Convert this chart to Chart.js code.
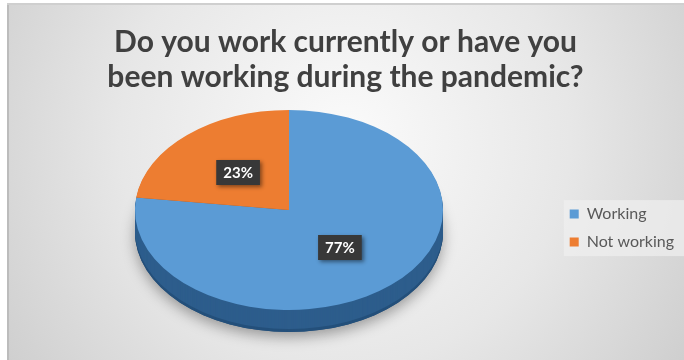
<!DOCTYPE html>
<html>
<head>
<meta charset="utf-8">
<script src="https://cdn.jsdelivr.net/npm/chart.js@4.4.1/dist/chart.umd.min.js"></script>
<style>
    html, body { margin: 0; padding: 0; background: #ffffff; }
    #wrap { position: relative; width: 684px; height: 360px; }
</style>
</head>
<body>
<div id="wrap"><canvas id="workChart"></canvas></div>
<script>
const categories = ['Working', 'Not working'];
const shares = [77, 23];
const sliceColors = ['#5b9bd5', '#ed7d31'];
const sideColors = ['#2d5d8c', '#a5521c'];
const titleLines = ['Do you work currently or have you', 'been working during the pandemic?'];

// where the tilted pie sits on the page
const PIE = { x: 289, y: 210, rx: 154, ry: 100, depth: 22 };
let squash = null;

const tiltPlugin = {
    id: 'tilt',
    beforeDraw(chart) {
        let ctx = chart.ctx;
        let w = chart.width, h = chart.height;
        ctx.save();
        ctx.fillStyle = '#ffffff';
        ctx.fillRect(0, 0, w, h);
        let grad = ctx.createRadialGradient(345, 140, 10, 345, 140, 440);
        grad.addColorStop(0, '#fafafa');
        grad.addColorStop(0.5, '#e7e7e7');
        grad.addColorStop(1, '#cacaca');
        ctx.fillStyle = grad;
        ctx.fillRect(7, 4, w - 7, h - 4);
        ctx.fillStyle = '#bcbcbc';
        ctx.fillRect(7, 4, 2, h - 4);
        ctx.fillStyle = '#cfcfcf';
        ctx.fillRect(7, 3, w - 7, 2);

        // pale panel behind the legend
        let boxes = chart.legend.legendHitBoxes;
        if (boxes && boxes.length) {
            let left = Math.min(...boxes.map(b => b.left)) - 6;
            let top = Math.min(...boxes.map(b => b.top)) - 6;
            let bottom = Math.max(...boxes.map(b => b.top + b.height)) + 6;
            ctx.fillStyle = 'rgba(240,240,240,0.7)';
            ctx.fillRect(left, top, w - left, bottom - top);
        }
        ctx.restore();
    },
    beforeDatasetsDraw(chart) {
        let ctx = chart.ctx;
        let arcs = chart.getDatasetMeta(0).data;
        let cx = arcs[0].x, cy = arcs[0].y, r = arcs[0].outerRadius;
        let sx = PIE.rx / r, sy = PIE.ry / r;
        squash = { cx: cx, cy: cy, sx: sx, sy: sy };

        ctx.save();
        // soft shadow under the disc
        ctx.save();
        ctx.translate(PIE.x, PIE.y + PIE.depth);
        ctx.scale(sx, sy);
        ctx.shadowColor = 'rgba(0,0,0,0.35)';
        ctx.shadowBlur = 14;
        ctx.shadowOffsetY = 5;
        ctx.beginPath();
        ctx.arc(0, 0, r, 0, Math.PI * 2);
        ctx.fillStyle = '#234d77';
        ctx.fill();
        ctx.restore();

        // side wall, stacked slices going up
        for (let d = PIE.depth; d > 0; d--) {
            ctx.save();
            ctx.translate(PIE.x, PIE.y + d);
            ctx.scale(sx, sy);
            arcs.forEach((arc, i) => {
                ctx.beginPath();
                ctx.moveTo(0, 0);
                ctx.arc(0, 0, r, arc.startAngle, arc.endAngle);
                ctx.closePath();
                ctx.fillStyle = d > PIE.depth - 3 ? '#24507b' : sideColors[i];
                ctx.fill();
            });
            ctx.restore();
        }

        // top face gets drawn by chart.js inside this transform
        ctx.translate(PIE.x, PIE.y);
        ctx.scale(sx, sy);
        ctx.translate(-cx, -cy);
    },
    afterDatasetsDraw(chart) {
        let ctx = chart.ctx;
        ctx.restore();
        let arcs = chart.getDatasetMeta(0).data;
        ctx.save();
        ctx.font = 'bold 15px Lato';
        ctx.textAlign = 'center';
        ctx.textBaseline = 'middle';
        arcs.forEach((arc, i) => {
            let p = arc.getCenterPoint();
            let x = PIE.x + (p.x - squash.cx) * squash.sx;
            let y = PIE.y + (p.y - squash.cy) * squash.sy;
            let txt = shares[i] + '%';
            let bw = ctx.measureText(txt).width + 14, bh = 25;
            ctx.shadowColor = 'rgba(0,0,0,0.45)';
            ctx.shadowBlur = 4;
            ctx.shadowOffsetX = 2;
            ctx.shadowOffsetY = 2;
            ctx.fillStyle = '#383838';
            ctx.fillRect(x - bw / 2, y - bh / 2, bw, bh);
            ctx.shadowColor = 'transparent';
            ctx.fillStyle = '#ffffff';
            ctx.fillText(txt, x, y + 1);
        });
        ctx.restore();
    }
};

let ctx = document.getElementById('workChart');
let chart = new Chart(ctx, {
    type: 'pie',
    data: {
        labels: categories,
        datasets: [
            {
                data: shares,
                backgroundColor: sliceColors,
                borderWidth: 0,
                hoverOffset: 0
            }
        ]
    },
    options: {
        maintainAspectRatio: false,
        responsive: true,
        animation: false,
        events: [],
        layout: { padding: { left: 7, top: 4 } },
        plugins: {
            title: {
                display: true,
                text: titleLines,
                color: '#404040',
                font: { family: 'Lato', size: 30, weight: 'bold', lineHeight: 1.17 },
                padding: { top: 21, bottom: 1 }
            },
            legend: {
                position: 'right',
                fullSize: false,
                labels: {
                    boxWidth: 9,
                    boxHeight: 9,
                    padding: 12,
                    color: '#595959',
                    font: { family: 'Lato', size: 16 }
                }
            },
            tooltip: { enabled: false }
        }
    },
    plugins: [tiltPlugin]
});
</script>
</body>
</html>
